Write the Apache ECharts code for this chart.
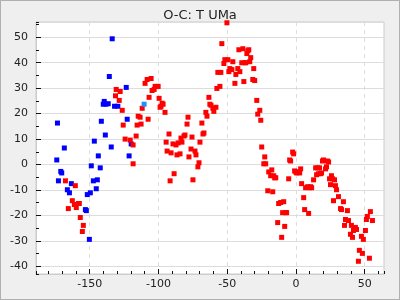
<!DOCTYPE html>
<html>
<head>
<meta charset="utf-8">
<script src="https://cdn.jsdelivr.net/npm/echarts@6/dist/echarts.min.js"></script>
<style>
html,body{margin:0;padding:0;background:#efefef;}
#c{width:398px;height:298px;border:1px solid #b0b0b0;background:#efefef;}
</style>
</head>
<body>
<div id="c"></div>
<script>
const titleText = "O-C: T UMa";

const blueX = [-173.4,-173.9,-172.7,-171,-170.3,-168.4,-166.2,-164.7,-163.3,-133.6,-135.7,-139.4,-140.1,-138.2,-136.5,-131.9,-129.5,-141.5,-138.6,-134.3,-146.6,-143.7,-142.3,-148.8,-147.3,-144.4,-145.2,-149.5,-151.7,-153.1,-152.4,-150.2,-123.4,-122.7,-121.3,-119.8];
const blueY = [16.3,1.8,-6.4,-2.7,-3.3,6.5,-9.9,-11.1,-7.5,49.4,34.6,24.8,23.7,23.7,23.9,22.9,22.9,17.0,11.6,6.9,9.2,3.4,-1.3,-0.5,-6.4,-6.0,-9.5,-11.1,-11.8,-17.7,-18.1,-29.4,30.3,17.8,3.4,8.1];

const lightBlueX = [-110.4];
const lightBlueY = [23.7];

const redX = [-167.6,-165.5,-160.4,-162.6,-161.1,-159.7,-158.2,-157.5,-156.8,-154.6,-155.3,
-131.2,-130.7,-128.5,-127.8,-126.3,-125.6,-124.2,-120.5,-118.4,-118.4,-116.2,-115.5,-114.7,-113.3,-112.6,-111.8,-109.7,-108.2,-107.5,-106.8,-105.3,-104.6,-103.1,-102.4,-101.0,-100.2,-99.5,-98.8,-98.1,-97.3,-96.6,-95.2,-94.4,-93.7,-92.3,-91.5,-90.8,-89.4,-88.6,-87.2,-86.5,-85.7,-84.3,-83.6,-82.9,-81.4,-80.7,-79.2,-78.5,-77.8,-76.3,-75.6,-74.9,-73.4,-72.7,-71.3,-70.5,-69.8,-68.4,-67.6,-66.9,-65.5,-64.7,-63.3,-62.6,-61.8,-60.4,-59.7,-58.2,-57.5,-56.8,-55.3,-54.6,-53.9,-52.4,-51.7,-50.2,-49.5,-48.8,-48.1,-46.6,-45.9,-44.4,-43.7,-42.3,-41.5,-40.8,-39.4,-38.6,-37.9,-37.2,-36.5,-35.7,-35.0,-34.3,-33.6,-32.9,-31.4,-30.7,-30.0,-28.5,-27.8,-26.3,-25.6,-24.9,-23.4,-22.7,-22.0,-20.5,-19.8,-18.4,-17.6,-16.9,-16.2,-15.5,-14.7,-13.3,-12.6,-11.1,-10.4,-9.7,-8.9,-8.2,-7.5,-6.8,-5.3,-4.6,-3.9,-2.4,-1.7,-1.0,-0.2,0.5,1.9,2.7,3.4,4.1,5.6,6.3,7.0,8.5,9.2,9.9,10.6,11.4,12.8,14.3,15.0,15.7,16.4,17.1,17.9,18.6,19.3,20.0,21.5,22.2,22.9,23.7,24.4,25.1,25.8,26.6,27.3,28.0,28.7,29.5,30.9,32.4,33.1,34.5,35.3,36.0,37.4,38.2,39.6,40.3,41.1,41.8,42.5,43.2,44.0,45.4,46.1,47.6,48.3,49.0,50.5,51.2,51.9,53.4,54.1,55.6];
const redY = [-6.4,-17.3,-8.3,-14.2,-15.7,-16.9,-15.3,-15.3,-20.8,-23.9,-26.3,
27.0,29.5,25.2,28.7,21.3,15.5,10.0,9.6,7.7,0.3,11.2,15.5,19.0,18.6,15.9,22.1,31.9,33.4,17.8,26.4,33.8,29.1,29.5,30.7,30.7,30.7,26.0,22.5,22.9,24.1,23.7,20.5,8.8,5.3,12.0,-6.4,4.6,8.1,-3.6,7.7,3.8,8.5,4.2,10.4,8.8,11.2,11.6,15.9,18.6,3.0,6.1,10.8,-6.0,5.3,3.8,-0.9,0.7,8.8,16.3,12.0,12.4,20.5,19.0,26.4,23.7,23.3,22.1,20.9,22.5,29.9,36.2,30.7,36.2,47.5,39.7,41.2,55.7,41.2,36.5,37.7,37.3,40.4,31.9,35.4,37.7,45.1,36.5,40.0,45.5,32.6,40.0,40.0,43.6,44.7,45.1,40.4,42.0,33.4,37.7,33.0,25.2,19.8,21.3,17.4,6.9,0.3,3.0,0.3,-10.3,-2.9,-4.4,-2.1,-10.7,-4.4,-5.2,-5.2,-22.8,-15.3,-14.9,-28.6,-18.9,-14.6,-24.3,-18.9,-18.9,-5.6,1.8,1.4,4.9,4.2,-2.5,-2.9,-3.3,-2.9,-3.3,-1.7,-7.5,-13.0,-17.7,-9.1,-8.7,-19.2,-9.1,-8.7,-9.1,-6.0,-1.3,-4.0,-1.3,-3.6,-1.3,-3.6,-3.3,1.4,1.8,-1.7,-0.9,1.4,1.0,-5.6,-7.9,-4.4,-5.6,-14.2,-6.0,-8.3,-9.9,-12.6,-17.3,-17.7,-14.6,-23.9,-21.6,-18.1,-22.0,-27.4,-23.9,-28.6,-25.9,-25.1,-24.7,-25.5,-38.0,-33.7,-28.2,-34.9,-29.4,-25.9,-21.6,-20.4,-36.8,-18.5,-22.0];

const zip = (xs, ys) => xs.map((x, i) => [x, ys[i]]);
const FONT = 'DejaVu Sans';
const X_MIN = -189, X_MAX = 64, Y_MIN = -43, Y_MAX = 56;
const lineCol = '#cccccc';
const tickCol = '#111111';

const chart = echarts.init(document.getElementById('c'), null, {renderer: 'canvas'});
chart.setOption({
  animation: false,
  backgroundColor: '#efefef',
  title: {
    text: titleText, left: 'center', top: 3,
    textStyle: {fontFamily: FONT, fontSize: 13, fontWeight: 'normal', color: '#222'}
  },
  grid: {left: 35, right: 15, top: 21, bottom: 25, show: true, backgroundColor: '#ffffff', borderColor: lineCol, borderWidth: 1},
  xAxis: [{
    type: 'value', min: X_MIN, max: X_MAX, position: 'bottom',
    axisLine: {show: true, onZero: false, lineStyle: {color: lineCol}},
    axisTick: {show: true, inside: true, length: 5, lineStyle: {color: tickCol, width: 1}},
    axisLabel: {showMinLabel: false, showMaxLabel: false, fontFamily: FONT, fontSize: 11, color: '#222', margin: 5},
    splitLine: {show: true, lineStyle: {color: '#dddddd', type: [4, 4]}}
  }, {
    type: 'value', min: X_MIN, max: X_MAX, position: 'bottom', offset: 0, splitNumber: 25,
    axisLine: {show: false, onZero: false},
    axisTick: {show: true, inside: true, length: 3, lineStyle: {color: tickCol, width: 1}},
    axisLabel: {show: false},
    splitLine: {show: false}
  }],
  yAxis: [{
    type: 'value', min: Y_MIN, max: Y_MAX, splitNumber: 10, position: 'left',
    axisLine: {show: true, onZero: false, lineStyle: {color: lineCol}},
    axisTick: {show: true, inside: true, length: 5, lineStyle: {color: tickCol, width: 1}},
    axisLabel: {showMinLabel: false, showMaxLabel: false, fontFamily: FONT, fontSize: 11, color: '#222', margin: 8},
    splitLine: {show: true, lineStyle: {color: '#dddddd', width: 1}}
  }, {
    type: 'value', min: Y_MIN, max: Y_MAX, position: 'left', offset: 0, splitNumber: 20,
    axisLine: {show: false, onZero: false},
    axisTick: {show: true, inside: true, length: 3, lineStyle: {color: tickCol, width: 1}},
    axisLabel: {show: false},
    splitLine: {show: false}
  }],
  series: [
    {type: 'scatter', symbol: 'rect', symbolSize: 5, itemStyle: {color: '#0000ff', opacity: 1, borderWidth: 0}, data: zip(blueX, blueY), clip: true},
    {type: 'scatter', symbol: 'rect', symbolSize: 5, itemStyle: {color: '#ff0000', opacity: 1, borderWidth: 0}, data: zip(redX, redY), clip: true},
    {type: 'scatter', symbol: 'rect', symbolSize: 5, itemStyle: {color: '#1e90ff', opacity: 1, borderWidth: 0}, data: zip(lightBlueX, lightBlueY), clip: true}
  ]
});
</script>
</body>
</html>
